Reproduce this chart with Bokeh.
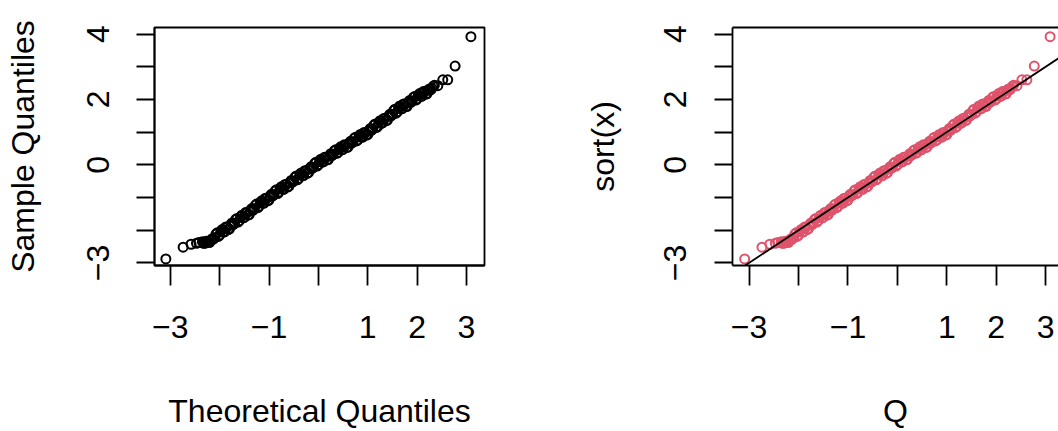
from bokeh.plotting import figure
from bokeh.layouts import row
from bokeh.models import FixedTicker, LinearAxis, Slope, ColumnDataSource
from bokeh.embed import file_html
from bokeh.resources import INLINE

# ---- data ----
# main run of points (tails + band)
theoretical = [
    -3.09, -2.74, -2.58, -2.47, -2.42,
    -2.35, -2.30, -2.25, -2.20, -2.15, -2.10, -2.05, -2.00, -1.95, -1.90,
    -1.85, -1.80, -1.75, -1.70, -1.65, -1.60, -1.55, -1.50, -1.45, -1.40,
    -1.35, -1.30, -1.25, -1.20, -1.15, -1.10, -1.05, -1.00, -0.95, -0.90,
    -0.85, -0.80, -0.75, -0.70, -0.65, -0.60, -0.55, -0.50, -0.45, -0.40,
    -0.35, -0.30, -0.25, -0.20, -0.15, -0.10, -0.05, 0.00, 0.05, 0.10,
    0.15, 0.20, 0.25, 0.30, 0.35, 0.40, 0.45, 0.50, 0.55, 0.60,
    0.65, 0.70, 0.75, 0.80, 0.85, 0.90, 0.95, 1.00, 1.05, 1.10,
    1.15, 1.20, 1.25, 1.30, 1.35, 1.40, 1.45, 1.50, 1.55, 1.60,
    1.65, 1.70, 1.75, 1.80, 1.85, 1.90, 1.95, 2.00, 2.05, 2.10,
    2.15, 2.20, 2.25, 2.30, 2.35,
    2.42, 2.52, 2.62, 2.77, 3.09,
]
sample = [
    -2.88, -2.52, -2.43, -2.40, -2.38,
    -2.35, -2.40, -2.35, -2.37, -2.26, -2.23, -2.08, -2.15, -1.98, -2.05,
    -1.91, -1.96, -1.78, -1.79, -1.64, -1.71, -1.54, -1.61, -1.47, -1.52,
    -1.34, -1.35, -1.20, -1.27, -1.10, -1.17, -1.03, -1.08, -0.90, -0.92,
    -0.76, -0.84, -0.67, -0.75, -0.60, -0.66, -0.48, -0.50, -0.34, -0.42,
    -0.25, -0.33, -0.18, -0.24, -0.06, -0.08, 0.08, 0.00, 0.17, 0.09,
    0.22, 0.16, 0.34, 0.32, 0.46, 0.38, 0.55, 0.47, 0.60, 0.54,
    0.72, 0.70, 0.84, 0.76, 0.93, 0.85, 0.98, 0.92, 1.11, 1.09,
    1.25, 1.17, 1.35, 1.28, 1.42, 1.37, 1.55, 1.54, 1.70, 1.62,
    1.80, 1.72, 1.85, 1.79, 1.97, 1.95, 2.09, 2.01, 2.18, 2.10,
    2.23, 2.17, 2.32, 2.34, 2.43,
    2.42, 2.60, 2.60, 3.02, 3.92,
]
# in-between points of the dense band
theoretical_fill = [
    -2.325, -2.275, -2.225, -2.175, -2.125, -2.075, -2.025, -1.975, -1.925, -1.875,
    -1.825, -1.775, -1.725, -1.675, -1.625, -1.575, -1.525, -1.475, -1.425, -1.375,
    -1.325, -1.275, -1.225, -1.175, -1.125, -1.075, -1.025, -0.975, -0.925, -0.875,
    -0.825, -0.775, -0.725, -0.675, -0.625, -0.575, -0.525, -0.475, -0.425, -0.375,
    -0.325, -0.275, -0.225, -0.175, -0.125, -0.075, -0.025, 0.025, 0.075, 0.125,
    0.175, 0.225, 0.275, 0.325, 0.375, 0.425, 0.475, 0.525, 0.575, 0.625,
    0.675, 0.725, 0.775, 0.825, 0.875, 0.925, 0.975, 1.025, 1.075, 1.125,
    1.175, 1.225, 1.275, 1.325, 1.375, 1.425, 1.475, 1.525, 1.575, 1.625,
    1.675, 1.725, 1.775, 1.825, 1.875, 1.925, 1.975, 2.025, 2.075, 2.125,
    2.175, 2.225, 2.275, 2.325,
]
sample_fill = [
    -2.40, -2.34, -2.38, -2.30, -2.27, -2.12, -2.19, -2.03, -2.06, -1.90,
    -1.98, -1.83, -1.83, -1.67, -1.75, -1.59, -1.62, -1.46, -1.54, -1.39,
    -1.39, -1.23, -1.31, -1.15, -1.18, -1.02, -1.10, -0.95, -0.95, -0.80,
    -0.88, -0.72, -0.75, -0.60, -0.68, -0.53, -0.53, -0.38, -0.46, -0.30,
    -0.33, -0.18, -0.26, -0.11, -0.11, 0.04, -0.04, 0.11, 0.08, 0.23,
    0.15, 0.28, 0.28, 0.43, 0.35, 0.49, 0.46, 0.61, 0.53, 0.66,
    0.66, 0.81, 0.73, 0.87, 0.84, 0.99, 0.91, 1.05, 1.05, 1.21,
    1.14, 1.29, 1.27, 1.42, 1.35, 1.50, 1.50, 1.66, 1.58, 1.74,
    1.71, 1.86, 1.78, 1.91, 1.91, 2.06, 1.98, 2.12, 2.09, 2.24,
    2.16, 2.29, 2.29, 2.40,
]
assert len(theoretical) == len(sample)
assert len(theoretical_fill) == len(sample_fill)

x_ticks = [-3, -2, -1, 0, 1, 2, 3]
x_tick_labels = ["\u22123", "", "\u22121", "", "1", "2", "3"]
y_ticks = [-3, -2, -1, 0, 1, 2, 3, 4]
y_tick_labels = ["\u22123", "", "", "0", "", "2", "", "4"]

line_intercept = 0.0
line_slope = 1.0

left_xlabel = "Theoretical Quantiles"
left_ylabel = "Sample Quantiles"
right_xlabel = "Q"
right_ylabel = "sort(x)"

left_color = "#000000"
right_color = "#DF536B"

FONT = "Liberation Sans"
FS = "32px"


def style_axis(ax, tick_len, ticks, labels, label_standoff, title_standoff, parallel=False):
    ax.ticker = FixedTicker(ticks=ticks)
    ax.major_label_overrides = {t: l for t, l in zip(ticks, labels)}
    ax.major_tick_out = tick_len
    ax.major_tick_in = 0
    ax.minor_tick_out = 0
    ax.minor_tick_in = 0
    ax.major_tick_line_color = "black"
    ax.major_tick_line_width = 1.8
    ax.axis_line_color = "black"
    ax.axis_line_width = 1.8
    ax.major_label_text_font = FONT
    ax.major_label_text_font_size = FS
    ax.major_label_text_color = "black"
    ax.major_label_standoff = label_standoff
    ax.axis_label_text_font = FONT
    ax.axis_label_text_font_size = FS
    ax.axis_label_text_font_style = "normal"
    ax.axis_label_text_color = "black"
    ax.axis_label_standoff = title_standoff
    if parallel:
        ax.major_label_orientation = "parallel"


def make_fig(width, xr, yr, bl, br, color, xlabel, ylabel, outline,
             y_label_standoff, y_title_standoff):
    p = figure(width=width, height=431, x_range=xr, y_range=yr,
               output_backend="svg", toolbar_location=None,
               min_border_left=bl, min_border_right=br,
               min_border_top=27, min_border_bottom=163)
    p.xgrid.visible = False
    p.ygrid.visible = False
    p.background_fill_color = "white"
    p.border_fill_color = "white"
    if outline:
        p.outline_line_color = "black"
        p.outline_line_width = 1.8
    else:
        p.outline_line_color = None
    p.xaxis.axis_label = xlabel
    p.yaxis.axis_label = ylabel
    style_axis(p.xaxis[0], 20, x_ticks, x_tick_labels, 30, 52)
    style_axis(p.yaxis[0], 18, y_ticks, y_tick_labels, y_label_standoff,
               y_title_standoff, parallel=True)
    src = ColumnDataSource(dict(x=theoretical + theoretical_fill,
                                y=sample + sample_fill))
    p.scatter("x", "y", source=src, marker="circle", size=9,
              fill_color=None, line_color=color, line_width=2)
    return p


p1 = make_fig(529, (-3.32, 3.365), (-3.08, 4.2), 154, 45, left_color,
              left_xlabel, left_ylabel, True, 27, 44)
p2 = make_fig(529, (-3.336, 3.26), (-3.08, 4.2), 203, 0, right_color,
              right_xlabel, right_ylabel, False, 28, 41)
top = LinearAxis(ticker=FixedTicker(ticks=[]), axis_line_color="black",
                 axis_line_width=1.8, major_tick_out=0, major_tick_in=0,
                 minor_tick_out=0, minor_tick_in=0)
p2.add_layout(top, "above")
p2.add_layout(Slope(gradient=line_slope, y_intercept=line_intercept,
                    line_color="black", line_width=1.8))

layout = row(p1, p2, spacing=0)
open("out.html", "w").write(file_html(layout, INLINE))
